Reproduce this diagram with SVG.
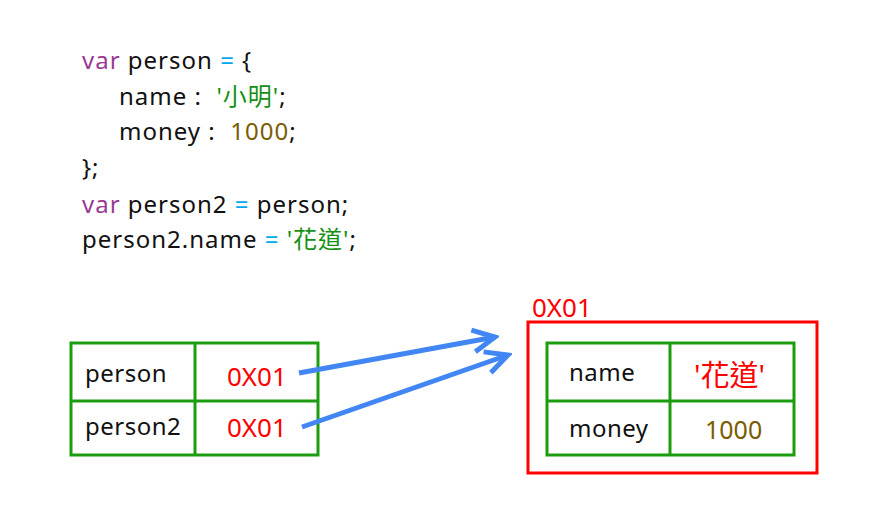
<svg xmlns="http://www.w3.org/2000/svg" width="886" height="510" viewBox="0 0 886 510">
<style>
text{font-family:"Noto Sans","Noto Sans CJK TC",sans-serif;font-size:24px;fill:#111;white-space:pre}
.code{letter-spacing:1px}
.cell{letter-spacing:0.5px}
.addr{font-size:26px}
.kw{fill:#993a93}.op{fill:#00a8f0}.str{fill:#159015}.num{fill:#7a5c00}.red{fill:#ff0000}
.grid{fill:none;stroke:#1a9e0f;stroke-width:3}
.arrow{fill:none;stroke:#4286f4;stroke-width:5;marker-end:url(#chev)}
</style>
<defs>
<marker id="chev" markerUnits="userSpaceOnUse" viewBox="-24 -14 28 28" markerWidth="28" markerHeight="28" refX="0" refY="0" orient="auto">
<polyline points="-22,-11 0,0 -22,11" fill="none" stroke="#4286f4" stroke-width="5"/>
</marker>
</defs>
<rect width="886" height="510" fill="#fff"/>
<g id="code" class="code">
<text class="code" x="82" y="69"><tspan class="kw">var</tspan> person <tspan class="op">=</tspan> {</text>
<text class="code" x="119" y="105">name :  <tspan class="str">'小明'</tspan>;</text>
<text class="code" x="119" y="140">money :  <tspan class="num">1000</tspan>;</text>
<text class="code" x="82" y="176">};</text>
<text class="code" x="82" y="213"><tspan class="kw">var</tspan> person2 <tspan class="op">=</tspan> person;</text>
<text class="code" x="82" y="248">person2.name <tspan class="op">=</tspan> <tspan class="str">'花道'</tspan>;</text>
</g>
<g id="stack">
<rect class="grid" x="71" y="343" width="247" height="112"/>
<line class="grid" x1="195" y1="343" x2="195" y2="455"/>
<line class="grid" x1="71" y1="401" x2="318" y2="401"/>
<text class="cell" x="85" y="382">person</text>
<text x="227" y="386" class="red addr">0X01</text>
<text class="cell" x="85" y="435">person2</text>
<text x="227" y="437" class="red addr">0X01</text>
</g>
<g id="heap">
<rect x="528" y="322" width="289" height="151" fill="none" stroke="#ff0000" stroke-width="3"/>
<text x="532" y="317" class="red addr">0X01</text>
<rect class="grid" x="547" y="343" width="247" height="112"/>
<line class="grid" x1="670" y1="343" x2="670" y2="455"/>
<line class="grid" x1="547" y1="401" x2="794" y2="401"/>
<text class="cell" x="569" y="381">name</text>
<text x="694" y="386" class="red" style="font-size:29px">'花道'</text>
<text class="cell" x="569" y="437">money</text>
<text x="705" y="439" class="num" style="font-size:25px">1000</text>
</g>
<g id="connectors">
<line class="arrow" x1="299" y1="373" x2="495" y2="337"/>
<line class="arrow" x1="302" y1="427" x2="508" y2="355"/>
</g>
</svg>
